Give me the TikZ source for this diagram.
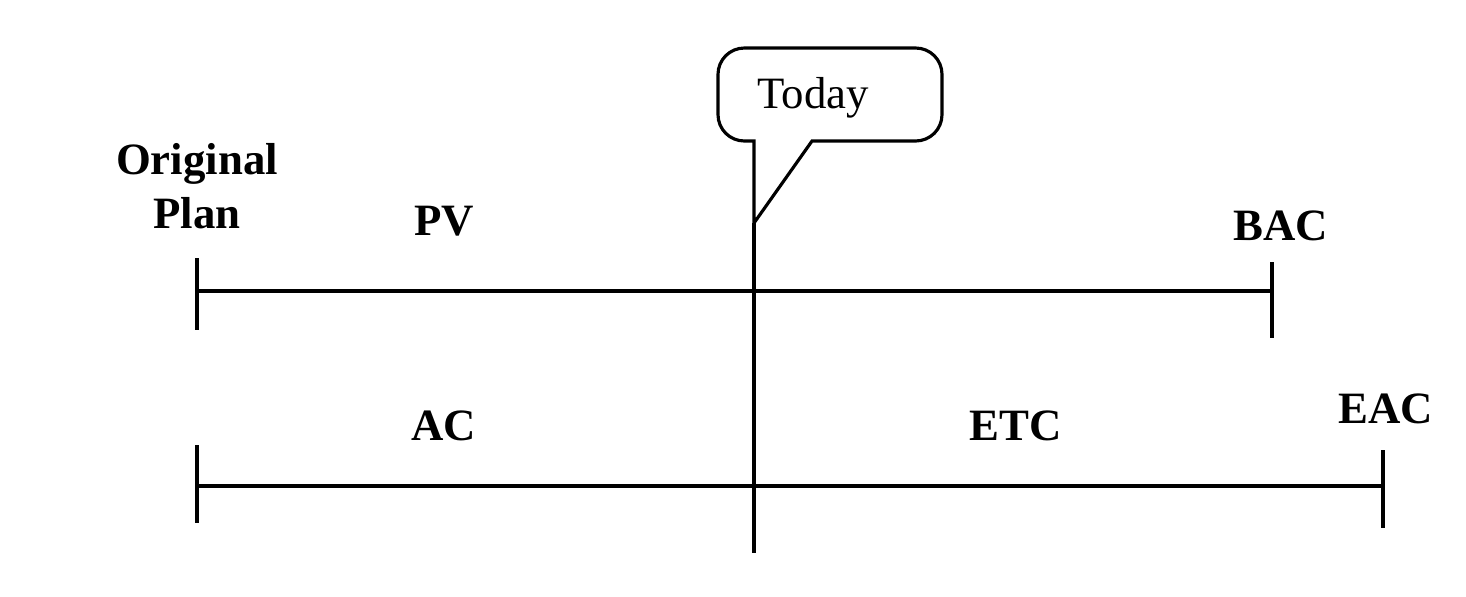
\documentclass[tikz,border=0pt]{standalone}
\usepackage{fontspec}
\setmainfont{Liberation Serif}
\begin{document}
\begin{tikzpicture}[x=0.02cm, y=-0.02cm,
  line/.style={line width=1.8pt, black},
  lbl/.style={font=\fontsize{25.5}{30.5}\selectfont\bfseries, inner sep=0pt, align=center},
  calltext/.style={font=\fontsize{25.5}{30.5}\selectfont, inner sep=0pt}]
  \useasboundingbox (0,0) rectangle (1466,596);

  % labels
  \node[lbl] (orig) at (197,186) {Original\\Plan};
  \node[lbl] (pv)  at (444,221) {PV};
  \node[lbl] (bac) at (1281,226) {BAC};
  \node[lbl] (ac)  at (444,426) {AC};
  \node[lbl] (etc) at (1016,426) {ETC};
  \node[lbl] (eac) at (1386,409) {EAC};

  % planned timeline
  \coordinate (p0) at (197,291);
  \coordinate (p1) at (1272,291);
  \draw[line] (197,258) -- (197,330);
  \draw[line] (1272,262) -- (1272,338);
  \draw[line] (p0) -- (p1);

  % actual / forecast timeline
  \coordinate (a0) at (197,486);
  \coordinate (a1) at (1383,486);
  \draw[line] (197,445) -- (197,523);
  \draw[line] (1383,450) -- (1383,528);
  \draw[line] (a0) -- (a1);

  % status date callout
  \node[calltext] (today) at (813,98) {Today};
  \coordinate (tip) at (754,223);
  \coordinate (base) at (754,553);
  \draw[line, line join=miter]
    (754,141) -- (tip) -- (812,141)
    [rounded corners=15] -- (942,141) -- (942,48) -- (718,48) -- (718,141)
    [sharp corners] -- cycle;
  \draw[line] (tip) -- (base);
\end{tikzpicture}
\end{document}
